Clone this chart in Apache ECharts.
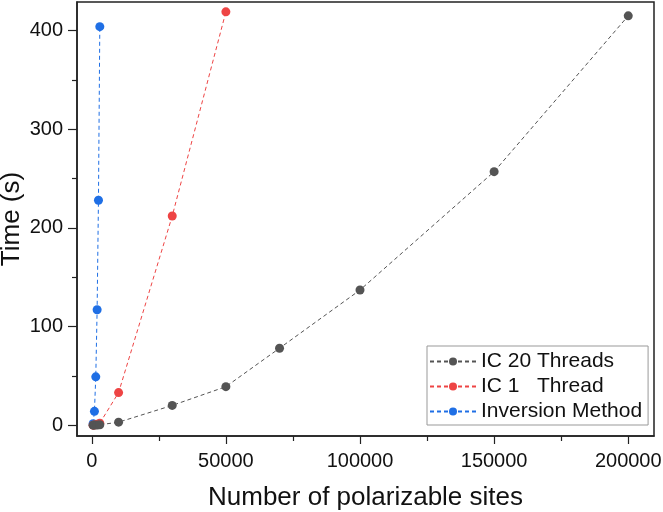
<!DOCTYPE html>
<html>
<head>
<meta charset="utf-8">
<script src="https://cdn.jsdelivr.net/npm/echarts@6/dist/echarts.min.js"></script>
<style>
  html, body { margin: 0; padding: 0; background: #fff; }
  #main { width: 663px; height: 512px; }
</style>
</head>
<body>
<div id="main"></div>
<script>
var seriesNames = ['IC 20 Threads', 'IC 1   Thread', 'Inversion Method'];
var colors = ['#545454', '#ee4444', '#1f6fe5'];

// [number of sites, time in s]
var ic20Threads = [[500, 0], [1000, 0.1], [2000, 0.2], [3000, 0.4], [10000, 3], [30000, 20],
  [50000, 39], [70000, 78], [100000, 137], [150000, 257], [200000, 415]];
var ic1Thread = [[500, 0], [1000, 0.2], [2000, 1], [3000, 2], [10000, 33], [30000, 212], [50000, 419]];
var inversion = [[500, 1.5], [1000, 14], [1500, 49], [2000, 117], [2500, 228], [3000, 404]];

var xMajor = [0, 50000, 100000, 150000, 200000];
var xMinor = [25000, 75000, 125000, 175000];
var yMajor = [0, 100, 200, 300, 400];
var yMinor = [50, 150, 250, 350];

var myChart = echarts.init(document.getElementById('main'));
var font = 'Liberation Sans, Arial, sans-serif';
var xMin = -5500, xMax = 209600, yMin = -11, yMax = 429;

function mkSeries(i, data) {
  return {
    name: seriesNames[i],
    type: 'line',
    data: data,
    symbol: 'circle',
    symbolSize: 9,
    color: colors[i],
    lineStyle: { type: [4, 3], width: 1, color: colors[i] },
    itemStyle: { color: colors[i] },
    emphasis: { disabled: true },
    animation: false,
    z: 3 - i
  };
}

option = {
  animation: false,
  grid: {
    left: 77, right: 9, top: 2, bottom: 76,
    outerBoundsMode: 'none', containLabel: false,
    show: true, borderColor: '#222', borderWidth: 1.5, backgroundColor: '#fff'
  },
  legend: {
    orient: 'vertical',
    left: 427, top: 346,
    padding: [5, 6, 3, 2],
    itemWidth: 46, itemHeight: 10, itemGap: 4,
    backgroundColor: '#fff',
    borderColor: '#999', borderWidth: 1,
    textStyle: { fontFamily: font, fontSize: 21, color: '#111', lineHeight: 21 },
    data: seriesNames
  },
  xAxis: [{
    type: 'value', min: xMin, max: xMax,
    name: 'Number of polarizable sites', nameLocation: 'middle', nameGap: 49,
    nameTextStyle: { fontFamily: font, fontSize: 26, color: '#111' },
    axisLine: { show: true, onZero: false, lineStyle: { color: '#222', width: 1.5 } },
    axisTick: { show: true, length: 8, customValues: xMajor, lineStyle: { color: '#222', width: 1.2 } },
    axisLabel: { customValues: xMajor, formatter: function (v) { return String(v); },
      fontFamily: font, fontSize: 20, color: '#111', margin: 15 },
    splitLine: { show: false }
  }, {
    type: 'value', min: xMin, max: xMax, position: 'bottom',
    axisLine: { show: false, onZero: false },
    axisTick: { show: true, length: 5, customValues: xMinor, lineStyle: { color: '#222', width: 1.2 } },
    axisLabel: { show: false },
    splitLine: { show: false }
  }],
  yAxis: [{
    type: 'value', min: yMin, max: yMax,
    name: 'Time (s)', nameLocation: 'middle', nameGap: 52, nameMoveOverlap: false,
    nameTextStyle: { fontFamily: font, fontSize: 26, color: '#111' },
    axisLine: { show: true, onZero: false, lineStyle: { color: '#222', width: 1.5 } },
    axisTick: { show: true, length: 9, customValues: yMajor, lineStyle: { color: '#222', width: 1.2 } },
    axisLabel: { customValues: yMajor, formatter: function (v) { return String(v); },
      fontFamily: font, fontSize: 20, color: '#111', margin: 14 },
    splitLine: { show: false }
  }, {
    type: 'value', min: yMin, max: yMax, position: 'left',
    axisLine: { show: false, onZero: false },
    axisTick: { show: true, length: 5, customValues: yMinor, lineStyle: { color: '#222', width: 1.2 } },
    axisLabel: { show: false },
    splitLine: { show: false }
  }],
  series: [
    mkSeries(0, ic20Threads),
    mkSeries(1, ic1Thread),
    mkSeries(2, inversion)
  ]
};
myChart.setOption(option);
</script>
</body>
</html>
